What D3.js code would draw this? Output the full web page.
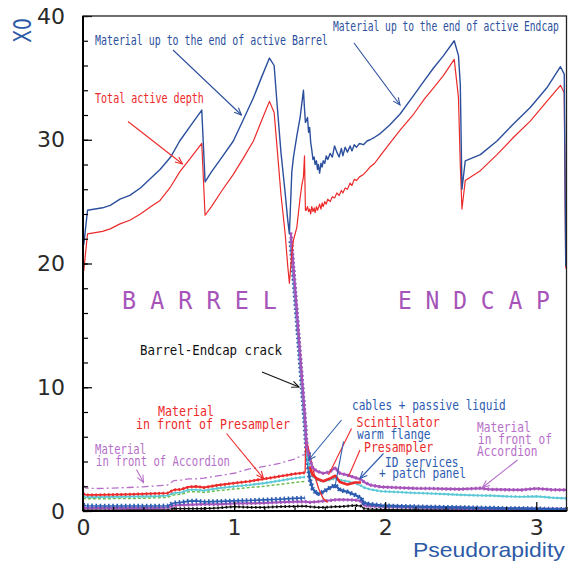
<!DOCTYPE html>
<html>
<head>
<meta charset="utf-8">
<script src="https://cdn.jsdelivr.net/npm/d3@7"></script>
<style>
  body { margin: 0; background: #fff; }
  svg { display: block; }
  .note { font-family: "DejaVu Sans Mono", monospace; }
  .tick text { font-family: "DejaVu Sans", sans-serif; font-size: 22px; fill: #2a2a2a; }
</style>
</head>
<body>
<div id="chart"></div>
<script>
// top curves: material up to end of active calorimeter (blue) and total active depth (red)
const etaTop = [0.005, 0.03, 0.08, 0.13, 0.18, 0.245, 0.31, 0.38, 0.45, 0.51, 0.58, 0.64, 0.71, 0.786,
  0.808, 0.85, 0.92, 0.995, 1.06, 1.128, 1.18, 1.234, 1.265, 1.287, 1.31, 1.338, 1.355, 1.366,
  1.382, 1.393, 1.415, 1.437, 1.448, 1.459, 1.466, 1.472, 1.477, 1.486, 1.493, 1.5, 1.507, 1.514,
  1.522, 1.53, 1.536, 1.545, 1.552, 1.558, 1.566, 1.575, 1.583, 1.59, 1.6, 1.61, 1.62, 1.636,
  1.65, 1.665, 1.68, 1.695, 1.71, 1.72, 1.735, 1.75, 1.768, 1.78, 1.795, 1.81, 1.83, 1.856,
  1.88, 1.9, 1.93, 1.967, 2.03, 2.1, 2.19, 2.26, 2.32, 2.386, 2.457, 2.485, 2.497, 2.508,
  2.53, 2.63, 2.74, 2.85, 2.96, 3.07, 3.16, 3.185, 3.195];
const blueTop = [21.5, 24.3, 24.4, 24.5, 24.7, 25.2, 25.5, 26.1, 26.9, 27.6, 28.6, 29.9, 31.1, 32.4,
  26.6, 27.4, 28.6, 29.9, 31.6, 33.4, 35.0, 36.6, 36.0, 32.5, 29.0, 25.7, 23.5, 22.4,
  27.4, 28.6, 30.3, 31.8, 32.9, 34.0, 32.5, 31.4, 31.5, 31.8, 30.6, 31.0, 29.8, 29.2,
  28.4, 28.6, 28.0, 28.3, 27.6, 28.0, 27.3, 28.1, 27.8, 28.3, 28.1, 28.7, 28.4, 28.9,
  28.6, 29.5, 29.0, 28.6, 29.3, 28.7, 29.4, 29.0, 29.5, 29.1, 29.6, 29.4, 29.7, 29.6,
  29.9, 30.0, 30.2, 30.5, 31.2, 32.1, 33.6, 34.8, 35.8, 36.8, 38.0, 36.8, 34.5, 26.0,
  28.3, 28.8, 29.9, 31.3, 32.6, 34.2, 35.9, 35.3, 19.8];
const redTop = [19.4, 22.4, 22.5, 22.6, 22.8, 23.2, 23.5, 24.0, 24.6, 25.1, 26.2, 27.4, 28.5, 29.7,
  23.9, 24.6, 25.9, 27.2, 28.5, 29.9, 31.5, 33.1, 32.2, 29.0, 25.6, 22.4, 19.8, 18.4,
  20.8, 21.9, 22.9, 25.3, 26.3, 27.0, 28.7, 24.3, 24.3, 24.6, 24.2, 24.4, 24.0, 24.6,
  24.2, 24.5, 24.1, 24.6, 24.3, 24.5, 24.8, 24.4, 24.9, 24.6, 25.0, 24.8, 25.2, 25.0,
  25.4, 25.3, 25.7, 25.5, 25.9, 25.7, 26.1, 26.0, 26.5, 26.3, 26.8, 26.7, 27.0, 27.2,
  27.5, 27.8, 28.1, 28.7, 29.7, 30.8, 32.1, 33.3, 34.2, 35.2, 36.5, 33.4, 28.0, 24.4,
  26.7, 27.5, 28.8, 30.2, 31.5, 33.1, 34.4, 33.8, 19.6];

// barrel: material in front of the accordion / presampler and their parts
const etaBarrel = [0, 0.02, 0.1, 0.2, 0.3, 0.4, 0.5, 0.56, 0.6, 0.65, 0.7, 0.75, 0.8, 0.85, 0.9,
  1.0, 1.1, 1.2, 1.3, 1.4, 1.47];
const accBarrel = [2.1, 1.85, 1.82, 1.85, 1.9, 1.95, 2.05, 2.1, 2.45, 2.5, 2.6, 2.6, 2.65, 2.75, 2.85,
  3.05, 3.4, 3.6, 3.85, 4.2, 4.6];
const presBarrel = [1.4, 1.3, 1.3, 1.32, 1.35, 1.38, 1.42, 1.45, 1.7, 1.75, 1.95, 1.98, 1.9, 2.0, 2.1,
  2.25, 2.4, 2.6, 2.8, 3.0, 3.1];
const cyanBarrel = [1.2, 1.12, 1.12, 1.14, 1.16, 1.18, 1.2, 1.25, 1.45, 1.5, 1.72, 1.72, 1.65, 1.75, 1.85,
  1.98, 2.1, 2.25, 2.45, 2.65, 2.75];
const greenBarrel = [1.05, 0.98, 0.98, 1.0, 1.01, 1.03, 1.08, 1.1, 1.3, 1.35, 1.55, 1.55, 1.5, 1.58, 1.65,
  1.78, 1.9, 2.0, 2.15, 2.3, 2.4];
const blueBarrel = [0.5, 0.42, 0.4, 0.4, 0.4, 0.4, 0.4, 0.42, 0.65, 0.7, 0.8, 0.82, 0.75, 0.76, 0.78,
  0.82, 0.85, 0.9, 0.95, 1.02, 1.05];

// endcap / crack region
const etaEndcap = [1.375, 1.4, 1.43, 1.45, 1.47, 1.48, 1.5, 1.52, 1.55, 1.59, 1.63, 1.67, 1.7, 1.75,
  1.8, 1.84, 1.86, 1.9, 1.97, 2.1, 2.2, 2.3, 2.4, 2.5, 2.63, 2.7, 2.8, 2.9, 3.0, 3.1, 3.2];
const accEndcap = [22.5, 18.6, 13.8, 10.6, 7.4, 5.2, 4.2, 3.5, 3.2, 3.05, 3.15, 3.5, 3.05, 2.9,
  2.7, 2.55, 2.35, 2.1, 1.95, 1.88, 1.83, 1.82, 1.78, 1.76, 1.84, 1.74, 1.72, 1.7, 1.82, 1.72, 1.7];
const cyanEndcap = [22.0, 18.2, 13.4, 10.2, 7.0, 4.6, 3.4, 2.8, 2.5, 2.4, 2.5, 2.65, 2.5, 2.4,
  2.25, 2.05, 1.9, 1.75, 1.6, 1.52, 1.46, 1.42, 1.36, 1.3, 1.25, 1.24, 1.18, 1.15, 1.18, 1.08, 1.02];
const blueEndcap = [21.8, 18.0, 13.2, 10.0, 6.8, 4.8, 2.6, 1.8, 1.35, 1.55, 1.85, 2.1, 1.7, 1.55,
  1.3, 1.05, 0.65, 0.55, 0.45, 0.38, 0.35, 0.32, 0.3, 0.28, 0.25, 0.24, 0.2, 0.2, 0.18, 0.15, 0.12];
const scintEndcap = [null, null, null, null, null, null, 3.6, 2.9, 2.6, 2.4, 2.6, 2.85, 2.35, 2.15,
  2.3, 2.3, null, null, null, null, null, null, null, null, null, null, null, null, null, null, null];
const etaPresCrack = [1.47, 1.475, 1.5, 1.53, 1.56, 1.59, 1.62];
const presCrack = [3.1, 6.0, 4.6, 3.0, 1.8, 1.0, 0.7];

// smallest contributions over full range
const etaLow = [0, 0.02, 0.1, 0.2, 0.3, 0.4, 0.5, 0.56, 0.6, 0.65, 0.7, 0.75, 0.8, 0.85, 0.9, 1.0,
  1.1, 1.2, 1.3, 1.4, 1.47, 1.5, 1.55, 1.59, 1.63, 1.67, 1.7, 1.75, 1.8, 1.84, 1.86, 1.9, 2.0,
  2.2, 2.4, 2.6, 2.8, 3.0, 3.2];
const purpleLow = [0.3, 0.25, 0.24, 0.24, 0.25, 0.25, 0.25, 0.28, 0.45, 0.48, 0.5, 0.52, 0.55, 0.55, 0.55, 0.6,
  0.62, 0.65, 0.7, 0.75, 0.75, 0.7, 0.75, 0.8, 0.85, 0.9, 0.92, 0.9, 0.88, 0.8, 0.45, 0.4, 0.36,
  0.3, 0.25, 0.2, 0.18, 0.15, 0.15];
const blackLow = [0.1, 0.08, 0.08, 0.08, 0.09, 0.09, 0.1, 0.12, 0.2, 0.2, 0.2, 0.2, 0.2, 0.22, 0.25, 0.35,
  0.3, 0.3, 0.35, 0.38, 0.4, 0.35, 0.3, 0.3, 0.32, 0.35, 0.35, 0.4, 0.45, 0.4, 0.2, 0.15, 0.12,
  0.1, 0.1, 0.1, 0.09, 0.08, 0.08];

const xTicks = [0, 1, 2, 3];
const yTicks = [0, 10, 20, 30, 40];

const W = 568, H = 569;
const x = d3.scaleLinear().domain([0, 3.2]).range([83, 566.5]);
const y = d3.scaleLinear().domain([0, 40]).range([511, 16]);

const svg = d3.select('#chart').append('svg')
  .attr('width', W).attr('height', H)
  .style('background', '#fff');

const C = {
  blue: '#2b4f9d', red: '#ec2a2a', purple: '#a653bb', purpleLight: '#b66fc8',
  cyan: '#5bc8d6', green: '#6cbf4c', idBlue: '#2d5cb0', black: '#111'
};

// arrow heads
const defs = svg.append('defs');
Object.entries(C).forEach(([key, color]) => {
  defs.append('marker')
    .attr('id', `arr-${key}`)
    .attr('viewBox', '0 0 10 10')
    .attr('refX', 9).attr('refY', 5)
    .attr('markerWidth', 9).attr('markerHeight', 9)
    .attr('markerUnits', 'userSpaceOnUse')
    .attr('orient', 'auto')
    .append('path')
    .attr('d', 'M1,1.5 L9,5 L1,8.5')
    .attr('fill', 'none')
    .attr('stroke', color)
    .attr('stroke-width', 1.2);
});

function series(etas, vals) {
  return etas.map((e, i) => ({ e, v: vals[i] })).filter(d => d.v !== null);
}
const line = d3.line().x(d => x(d.e)).y(d => y(d.v));

function draw(etas, vals, opt) {
  const g = svg.append('path')
    .datum(series(etas, vals))
    .attr('d', line)
    .attr('fill', 'none')
    .attr('stroke', opt.color)
    .attr('stroke-width', opt.width || 1.2)
    .attr('stroke-linejoin', 'round');
  if (opt.dash) g.attr('stroke-dasharray', opt.dash);
  if (opt.beads) {
    svg.append('path')
      .datum(series(etas, vals))
      .attr('d', line)
      .attr('fill', 'none')
      .attr('stroke', opt.color)
      .attr('stroke-width', opt.beads)
      .attr('stroke-dasharray', '1.6,2.6');
  }
}

// lower curves
draw(etaLow, blackLow, { color: C.black, width: 1.2, beads: 2.8 });
draw(etaLow, purpleLow, { color: C.purple, width: 2, beads: 3.4 });
draw(etaBarrel, blueBarrel, { color: C.idBlue, width: 1.6, beads: 4.6 });
draw(etaEndcap, blueEndcap, { color: C.idBlue, width: 2.4, beads: 4.6 });
draw(etaBarrel, greenBarrel, { color: C.green, width: 1.5, dash: '3,2' });
draw(etaBarrel, cyanBarrel, { color: C.cyan, width: 1.6, beads: 2.6 });
draw(etaEndcap, cyanEndcap, { color: C.cyan, width: 1.6, beads: 2.6 });
draw(etaBarrel, presBarrel, { color: C.red, width: 1.8, beads: 3 });
draw(etaPresCrack, presCrack, { color: C.red, width: 1.3 });
draw(etaEndcap, scintEndcap, { color: C.red, width: 2.6 });
draw(etaBarrel, accBarrel, { color: C.purpleLight, width: 1.3, dash: '7,3,2,3' });
draw(etaEndcap, accEndcap, { color: C.purple, width: 2.2, beads: 3.4 });

// top curves
draw(etaTop, redTop, { color: C.red, width: 1.2 });
draw(etaTop, blueTop, { color: C.blue, width: 1.4 });

// axes (ticks point inward)
function axisLayer(axis, transform) {
  const g = svg.append('g').attr('transform', transform).call(axis);
  g.select('.domain').remove();
  g.selectAll('.tick line').attr('stroke', '#000').attr('stroke-width', 1.2);
  return g;
}
axisLayer(d3.axisBottom(x).tickValues(d3.range(0, 3.21, 0.2)).tickSize(-4).tickFormat(''), 'translate(0,511)');
axisLayer(d3.axisBottom(x).tickValues(xTicks).tickSize(-9).tickPadding(8).tickFormat(d3.format('d')), 'translate(0,511)');
axisLayer(d3.axisLeft(y).tickValues(d3.range(0, 40.1, 2)).tickSize(-5).tickFormat(''), 'translate(83,0)');
axisLayer(d3.axisLeft(y).tickValues(yTicks).tickSize(-9).tickPadding(18).tickFormat(d3.format('d')), 'translate(83,0)');

// frame
svg.append('rect')
  .attr('x', 83).attr('y', 16)
  .attr('width', 566.5 - 83).attr('height', 511 - 16)
  .attr('fill', 'none').attr('stroke', '#222').attr('stroke-width', 1.3);
svg.append('line').attr('x1', 83).attr('x2', 83).attr('y1', 16).attr('y2', 511)
  .attr('stroke', '#000').attr('stroke-width', 2);
svg.append('line').attr('x1', 83).attr('x2', 566.5).attr('y1', 511).attr('y2', 511)
  .attr('stroke', '#000').attr('stroke-width', 2);

// text squeezed horizontally to a target width (condensed look of the original)
function fitText(sel, px, py, len) {
  const w = sel.node().getComputedTextLength() || len;
  sel.attr('transform', `translate(${px},${py}) scale(${(len / w).toFixed(4)},1)`);
  return sel;
}

// axis titles
svg.append('text')
  .attr('transform', 'translate(31,30.5) rotate(-90) scale(0.78,1)')
  .attr('text-anchor', 'middle')
  .style('font-family', '"DejaVu Sans", sans-serif').style('font-size', '24px')
  .attr('fill', '#2d5aa6')
  .text('X0');
fitText(svg.append('text')
  .style('font-family', '"Liberation Sans", Arial, sans-serif').style('font-size', '20px')
  .attr('fill', '#2d5aa6')
  .text('Pseudorapidity'), 413, 556.5, 152);

// single-line annotation
function note(txt, px, py, len, color, size) {
  const t = svg.append('text')
    .attr('class', 'note')
    .style('font-size', `${size || 14}px`)
    .attr('fill', color)
    .text(txt);
  fitText(t, px, py, len);
}
// stacked annotation lines kept in one text element; the first line sets the squeeze
function noteBlock(lines, refLen) {
  const t = svg.append('text').attr('class', 'note');
  const spans = lines.map(l => t.append('tspan')
    .style('font-size', `${l.size || 14}px`)
    .attr('fill', l.color)
    .text(l.txt));
  const k = refLen / (spans[0].node().getComputedTextLength() || refLen);
  t.attr('transform', `scale(${k.toFixed(4)},1)`);
  spans.forEach((s, i) => s.attr('x', (lines[i].x / k).toFixed(2)).attr('y', lines[i].y));
}
function arrow(x1, y1, x2, y2, key, head = true) {
  const l = svg.append('line')
    .attr('x1', x1).attr('y1', y1).attr('x2', x2).attr('y2', y2)
    .attr('stroke', C[key]).attr('stroke-width', 1.1);
  if (head) l.attr('marker-end', `url(#arr-${key})`);
}

note('Material up to the end of active Barrel', 95, 45, 233, C.blue, 14);
arrow(173, 50, 241.5, 115, 'blue');
note('Material up to the end of active Endcap', 333, 30.5, 226, C.blue, 14);
arrow(354, 43, 400, 105, 'blue');
note('Total active depth', 95, 103, 109, C.red, 14);
arrow(128, 121.5, 182.5, 164, 'red');

note('B A R R E L', 122, 309, 155, '#a654b9', 24);
note('E N D C A P', 398, 309, 152, '#a654b9', 24);

note('Barrel-Endcap crack', 140, 355, 142, C.black, 14);
arrow(262, 372, 299, 387, 'black');

noteBlock([
  { txt: 'in front of Presampler', x: 136, y: 429, color: C.red },
  { txt: 'Material', x: 158, y: 416, color: C.red }
], 154);
arrow(226.5, 433.5, 263.5, 478.5, 'red');

noteBlock([
  { txt: 'in front of Accordion', x: 96, y: 466.5, color: C.purpleLight },
  { txt: 'Material', x: 95, y: 454, color: C.purpleLight }
], 134);
arrow(136.5, 469.5, 143.5, 482.5, 'purpleLight');

noteBlock([
  { txt: 'cables + passive liquid', x: 352, y: 410.5, color: C.idBlue },
  { txt: 'Scintillator', x: 356.5, y: 427, color: C.red, size: 14.5 },
  { txt: 'warm flange', x: 357, y: 439, color: C.idBlue },
  { txt: 'Presampler', x: 364, y: 452.5, color: C.red, size: 14.5 },
  { txt: 'ID services', x: 385, y: 467.5, color: C.idBlue },
  { txt: '+ patch panel', x: 379, y: 478, color: C.idBlue }
], 154);
arrow(341.5, 420, 308.5, 460, 'idBlue');
arrow(351.5, 428.5, 328.5, 475, 'red', false);
arrow(343.5, 441.5, 335, 486.5, 'idBlue', false);
arrow(360, 450, 348.5, 476.5, 'red', false);
arrow(383.5, 453.5, 360, 478.5, 'idBlue');

noteBlock([
  { txt: 'in front of', x: 478, y: 444, color: C.purpleLight },
  { txt: 'Material', x: 477, y: 432, color: C.purpleLight },
  { txt: 'Accordion', x: 477, y: 456.5, color: C.purpleLight }
], 74);
arrow(517.5, 460, 482.5, 487.5, 'purpleLight');
</script>
</body>
</html>
